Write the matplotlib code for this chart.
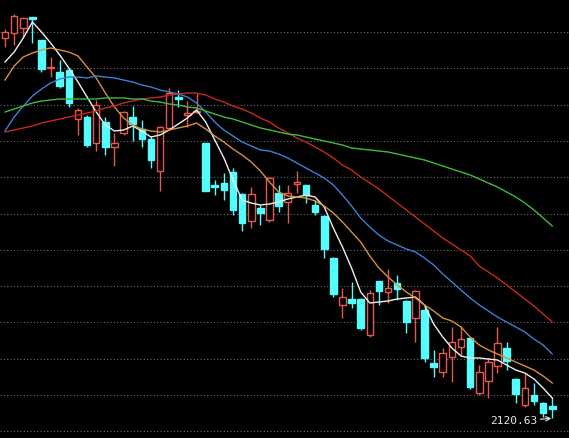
import numpy as np
import matplotlib
matplotlib.use("Agg")
import matplotlib.pyplot as plt

# daily candles (price)
opens = [2501, 2506, 2511, 2522, 2499, 2471, 2467, 2469, 2420, 2422,
         2396, 2417, 2392, 2406, 2422, 2410, 2400, 2368, 2411, 2442,
         2424, 2427, 2396, 2354, 2356, 2367, 2345, 2318, 2331, 2319,
         2346, 2337, 2355, 2354, 2334, 2323, 2281, 2234, 2240, 2240,
         2204, 2258, 2247, 2256, 2238, 2221, 2229, 2176, 2167, 2182,
         2192, 2201, 2146, 2158, 2173, 2191, 2160, 2134, 2144, 2136,
         2133]
highs = [2510, 2525, 2522, 2522, 2499, 2482, 2479, 2471, 2431, 2424,
         2439, 2422, 2406, 2428, 2433, 2419, 2403, 2413, 2451, 2449,
         2438, 2446, 2396, 2359, 2366, 2371, 2346, 2352, 2334, 2362,
         2354, 2354, 2368, 2354, 2339, 2324, 2282, 2251, 2257, 2241,
         2249, 2258, 2270, 2264, 2239, 2249, 2234, 2189, 2191, 2212,
         2213, 2202, 2174, 2181, 2212, 2197, 2161, 2166, 2156, 2137,
         2142]
lows = [2492, 2494, 2502, 2496, 2467, 2462, 2451, 2432, 2404, 2392,
        2388, 2384, 2373, 2404, 2398, 2392, 2371, 2348, 2409, 2432,
        2412, 2426, 2348, 2344, 2339, 2324, 2308, 2311, 2314, 2317,
        2327, 2316, 2346, 2336, 2324, 2281, 2242, 2221, 2231, 2209,
        2202, 2234, 2236, 2239, 2206, 2197, 2177, 2162, 2162, 2157,
        2184, 2150, 2144, 2141, 2166, 2169, 2136, 2132, 2134, 2122,
        2120.63]
closes = [2507, 2523, 2521, 2520, 2470, 2472, 2453, 2436, 2429, 2394,
          2434, 2392, 2396, 2427, 2415, 2400, 2379, 2412, 2446, 2440,
          2426, 2428, 2348, 2352, 2349, 2329, 2316, 2345, 2326, 2361,
          2333, 2346, 2357, 2344, 2327, 2290, 2245, 2242, 2236, 2211,
          2246, 2248, 2251, 2250, 2217, 2248, 2181, 2172, 2186, 2197,
          2200, 2152, 2167, 2177, 2196, 2178, 2145, 2151, 2138, 2126,
          2130]

# moving averages as shown on the chart
ma5 = [2477, 2487, 2501, 2517, 2507, 2496, 2484, 2471, 2457, 2442,
       2427, 2414, 2408, 2409, 2413, 2408, 2402, 2404, 2409, 2415,
       2421, 2429, 2417, 2399, 2381, 2359, 2339, 2336, 2334, 2335,
       2337, 2340, 2342, 2344, 2342, 2332, 2311, 2292, 2271, 2247,
       2236, 2237, 2238, 2240, 2241, 2242, 2234, 2215, 2202, 2191,
       2183, 2181, 2181, 2180, 2179, 2174, 2169, 2166, 2160, 2151,
       2141]
ma10 = [2459, 2473, 2482, 2486, 2489, 2491, 2489, 2487, 2483, 2472,
        2461, 2446, 2432, 2421, 2414, 2410, 2408, 2407, 2409, 2411,
        2413, 2416, 2410, 2403, 2397, 2390, 2384, 2377, 2368, 2357,
        2347, 2343, 2342, 2341, 2338, 2333, 2326, 2317, 2307, 2297,
        2283, 2271, 2262, 2254, 2247, 2241, 2234, 2228, 2221, 2218,
        2212, 2202, 2194, 2189, 2185, 2181, 2177, 2173, 2169, 2163,
        2156]
ma20 = [2408, 2422, 2433, 2443, 2450, 2456, 2460, 2462, 2462, 2461,
        2463, 2462, 2461, 2459, 2457, 2454, 2452, 2449, 2447, 2445,
        2442, 2436, 2427, 2417, 2409, 2403, 2397, 2393, 2389, 2388,
        2385, 2381, 2376, 2371, 2366, 2361, 2354, 2344, 2333, 2321,
        2312, 2304, 2298, 2294, 2290, 2287, 2281, 2274, 2265, 2257,
        2249, 2241, 2234, 2228, 2222, 2217, 2212, 2207, 2200, 2194,
        2185]
ma30 = [2407, 2409, 2411, 2413, 2416, 2418, 2420, 2422, 2424, 2426,
        2428, 2431, 2433, 2436, 2438, 2440, 2441, 2442, 2444, 2445,
        2446, 2446, 2444, 2440, 2437, 2433, 2430, 2426, 2421, 2417,
        2411, 2406, 2401, 2397, 2392, 2387, 2381, 2374, 2369, 2362,
        2356, 2350, 2343, 2336, 2329, 2322, 2315, 2308, 2301, 2295,
        2289, 2283, 2273, 2267, 2261, 2254, 2247, 2240, 2233, 2225,
        2217]
ma60 = [2427, 2430, 2433, 2436, 2438, 2439, 2440, 2440, 2440, 2440,
        2440, 2441, 2441, 2441, 2440, 2440, 2438, 2437, 2435, 2434,
        2432, 2431, 2428, 2425, 2422, 2420, 2417, 2414, 2411, 2409,
        2407, 2405, 2404, 2402, 2400, 2398, 2396, 2394, 2391, 2390,
        2389, 2388, 2387, 2385, 2383, 2381, 2379, 2376, 2373, 2370,
        2367, 2364, 2360, 2356, 2352, 2347, 2342, 2336, 2329, 2321,
        2313]

lowLabel = "2120.63"

upColor = '#e8574c'
downColor = '#54fcfc'
maLines = [(ma5, '#f0f0f0'), (ma10, '#d8903a'), (ma20, '#3a80d8'),
           (ma30, '#c8281e'), (ma60, '#3cbc3c')]


def drawCandles(ax, width):
    for i in range(len(opens)):
        o, h, l, c = opens[i], highs[i], lows[i], closes[i]
        up = c >= o
        col = upColor if up else downColor
        ax.vlines(i, l, h, color=col, lw=1, zorder=2)
        bottom = min(o, c)
        height = max(abs(c - o), 0.6)
        ax.bar(i, height, bottom=bottom, width=width,
               facecolor='black' if up else col, edgecolor=col,
               linewidth=1, zorder=3)


def run():
    fig = plt.figure(figsize=(5.69, 4.38), dpi=100, facecolor='black')
    ax = fig.add_axes([0, 0, 1, 1], facecolor='black')

    drawCandles(ax, 0.72)
    x = np.arange(len(closes))
    for vals, col in maLines:
        ax.plot(x, vals, color=col, lw=1, zorder=4)

    last = len(closes) - 1
    ax.annotate(lowLabel, xy=(last - 0.1, lows[last]), xytext=(-10, -2),
                textcoords='offset points', ha='right', va='center',
                color='#e8e8e8', fontsize=8, family='DejaVu Sans Mono',
                arrowprops=dict(arrowstyle='->', color='#e8e8e8', lw=0.8,
                                shrinkA=0, shrinkB=0), zorder=5)

    ax.set_xlim(-0.55, 61.84)
    ax.set_ylim(2101, 2539)
    ax.set_yticks(np.arange(2507, 2100, -36.3))
    ax.grid(axis='y', color='#6c6c6c', linestyle=(0, (1, 2)), lw=0.8)
    ax.tick_params(left=False, bottom=False, labelleft=False, labelbottom=False)
    for s in ax.spines.values():
        s.set_visible(False)

    fig.savefig('out.png', dpi=100, facecolor='black')


if __name__ == "__main__":
    run()
